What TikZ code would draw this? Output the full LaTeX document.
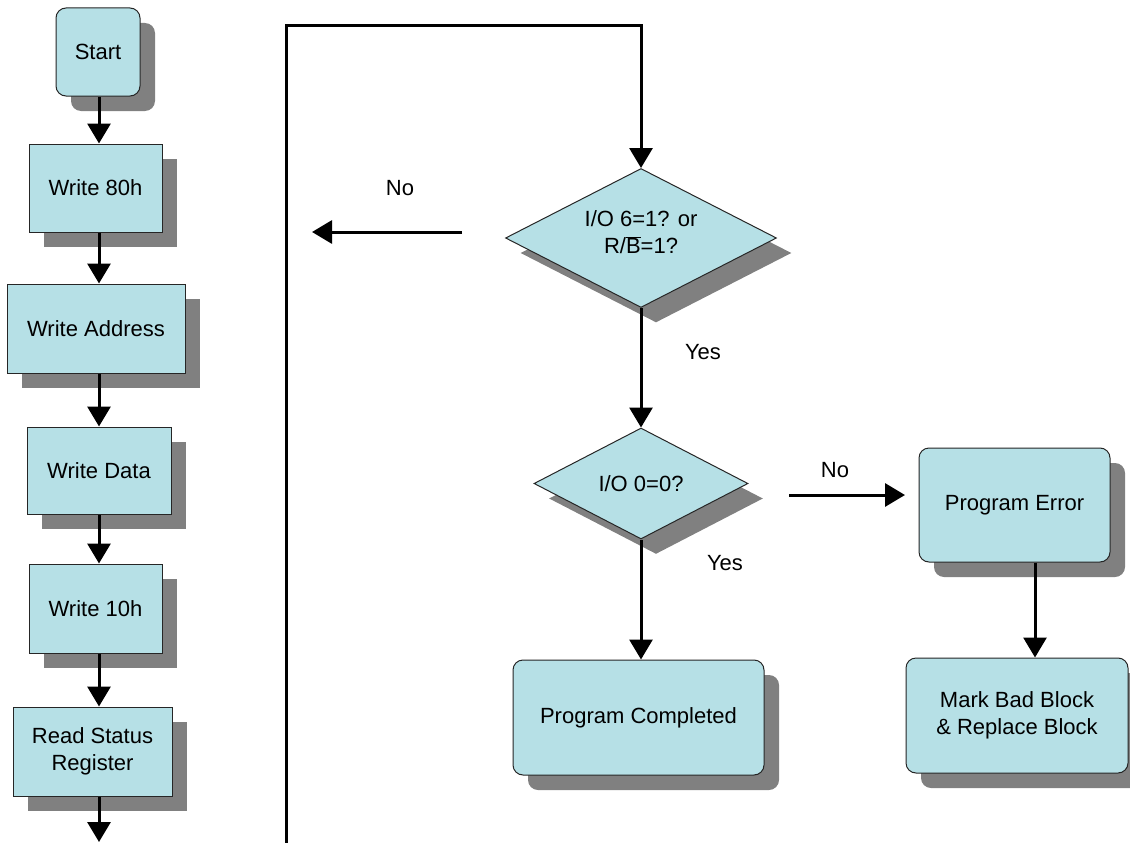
\documentclass[tikz,border=0pt]{standalone}
\usepackage{fontspec}
\setmainfont{Liberation Sans}
\usetikzlibrary{shadows,arrows.meta,shapes.geometric,calc}
\definecolor{boxfill}{RGB}{182,224,230}
\definecolor{shadecol}{RGB}{128,128,128}
\begin{document}
\begin{tikzpicture}[x=1pt,y=-1pt,
  font=\fontsize{22}{27}\selectfont,
  shd/.style={drop shadow={shadow xshift=15pt,shadow yshift=-15pt,fill=shadecol,opacity=1}},
  box/.style={draw=black!85,line width=1pt,fill=boxfill,align=center,inner sep=0pt,shd},
  rbox/.style={box,rounded corners=10pt},
  dia/.style={box,diamond,aspect=2},
  arr/.style={line width=3pt,-{Triangle[length=20pt,width=23pt]}},
  lbl/.style={inner sep=0pt,align=center}]
\useasboundingbox (0,0) rectangle (1130,843);
% left column
\node[rbox,minimum width=84pt,minimum height=88pt] (start) at (98,52) {Start};
\node[box,minimum width=133pt,minimum height=88pt] (w80) at (95.5,188) {Write 80h};
\node[box,minimum width=178pt,minimum height=89pt] (waddr) at (96,328.5) {Write Address};
\node[box,minimum width=144pt,minimum height=87pt] (wdata) at (99,470.5) {Write Data};
\node[box,minimum width=133pt,minimum height=89pt] (w10) at (95.5,608.5) {Write 10h};
\node[box,minimum width=159pt,minimum height=89pt] (rsr) at (92.5,751.5) {Read Status\\Register};
% right part
\node[dia,minimum width=271pt,minimum height=139pt] (d1) at (641,238) {};
\node[lbl] (d1t) at (641,232) {I/O 6=1? or\\R/$\overline{\mbox{B}}$=1?};
\node[dia,minimum width=214pt,minimum height=111pt] (d2) at (641,483.5) {I/O 0=0?};
\node[rbox,minimum width=251pt,minimum height=115pt] (pc) at (638.5,717.5) {Program Completed};
\node[rbox,minimum width=191pt,minimum height=114pt] (pe) at (1014.5,505) {Program Error};
\node[rbox,minimum width=222pt,minimum height=115pt] (mb) at (1017,715.5) {Mark Bad Block\\\&~Replace Block};
% labels
\node[lbl] (lno1) at (400,188) {No};
\node[lbl] (lyes1) at (703,352) {Yes};
\node[lbl] (lyes2) at (725,563) {Yes};
\node[lbl] (lno2) at (835,470) {No};
% coordinates
\coordinate (ax) at (99,0);
\coordinate (rend) at (99,842);
\coordinate (lb) at (286,843);
\coordinate (lt) at (286,26);
\coordinate (no1s) at (462,232);
\coordinate (no1e) at (312,232);
\coordinate (no2s) at (789,495);
\coordinate (no2e) at (905,495);
% connectors
\draw[arr] (start.south -| ax) -- (w80.north -| ax);
\draw[arr] (w80.south -| ax) -- (waddr.north -| ax);
\draw[arr] (waddr.south -| ax) -- (wdata.north -| ax);
\draw[arr] (wdata.south -| ax) -- (w10.north -| ax);
\draw[arr] (w10.south -| ax) -- (rsr.north -| ax);
\draw[arr] (rsr.south -| ax) -- (rend);
\draw[arr] (lb) -- (lt) -| (d1.north);
\draw[arr] (no1s) -- (no1e);
\draw[arr] (d1.south) -- (d2.north);
\draw[arr] (d2.south) -- (d2.south |- pc.north);
\draw[arr] (no2s) -- (no2e);
\draw[arr] ([xshift=20.5pt]pe.south) -- ([xshift=20.5pt]pe.south |- mb.north);
\end{tikzpicture}
\end{document}
